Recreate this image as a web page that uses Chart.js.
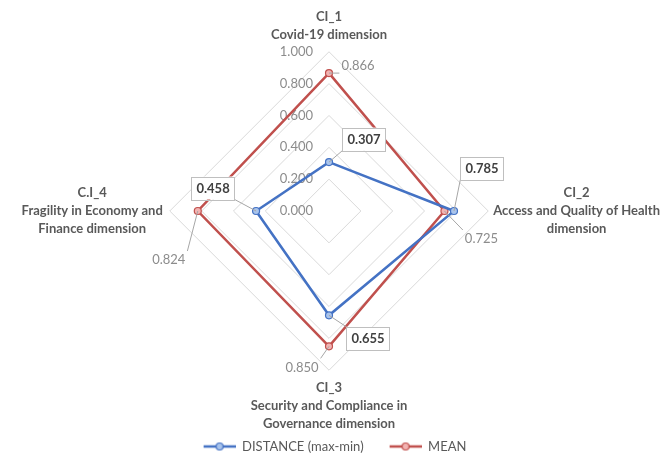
<!DOCTYPE html>
<html>
<head>
<meta charset="utf-8">
<script src="https://cdn.jsdelivr.net/npm/chart.js@4.4.1/dist/chart.umd.min.js"></script>
<style>
  html, body { margin: 0; padding: 0; background: #fff; }
</style>
</head>
<body>
<canvas id="radarChart" width="668" height="459"></canvas>
<script>
// Radar - dimensoes CI
const dimensions = [
    ['CI_1', 'Covid-19 dimension'],
    ['CI_2', 'Access and Quality of Health', 'dimension'],
    ['CI_3', 'Security and Compliance in', 'Governance dimension'],
    ['C.I_4', 'Fragility in Economy and', 'Finance dimension']
];
const distanceValues = [0.307, 0.785, 0.655, 0.458];
const meanValues = [0.866, 0.725, 0.850, 0.824];
const tickValues = [0.0, 0.2, 0.4, 0.6, 0.8, 1.0];

const FONT = 'Lato';
const blue = '#4472C4';
const red = '#C0504D';
const blueFill = '#a9c4ec';
const redFill = '#f2b3b2';

// where each value label sits relative to its point (px)
const labelOffsets = [
    [[35, -23], [28, -43], [39, 23], [-43, -23]],
    [[29, -8], [37, 27], [-27, 20], [-29, 48]]
];
// gap between outer ring and axis title, per axis
const titlePad = [8, 5, 9, 7];
const LINE_H = 18;

// line + circle legend mark, blank space on the left separates the items
function legendMark(color, fill) {
    const c = document.createElement('canvas');
    c.width = 52; c.height = 10;
    const g = c.getContext('2d');
    g.strokeStyle = color;
    g.lineWidth = 2.5;
    g.beginPath(); g.moveTo(20, 5); g.lineTo(52, 5); g.stroke();
    g.beginPath(); g.arc(36, 5, 3.5, 0, Math.PI * 2);
    g.fillStyle = fill; g.fill();
    g.lineWidth = 1.2; g.stroke();
    return c;
}
const legendMarks = [legendMark(blue, blueFill), legendMark(red, redFill)];

const radarDecor = {
    id: 'radarDecor',
    beforeDraw(chart) {
        // nudge the legend row so the visible marks sit like the original
        const lg = chart.legend;
        lg.left -= 17; lg.right -= 17;
        lg.top += 4; lg.bottom += 4;
    },
    beforeDatasetsDraw(chart) {
        const ctx = chart.ctx;
        const r = chart.scales.r;
        ctx.save();
        // tick labels, left of the top axis
        ctx.font = '13px ' + FONT;
        ctx.fillStyle = '#8c8c8c';
        ctx.textAlign = 'right';
        ctx.textBaseline = 'middle';
        tickValues.forEach(v => {
            const d = r.getDistanceFromCenterForValue(v);
            ctx.fillText(v.toFixed(3), r.xCenter - 16, r.yCenter - d);
        });
        // axis titles, lines centred on each other
        ctx.font = 'bold 13px ' + FONT;
        ctx.fillStyle = '#595959';
        ctx.textAlign = 'center';
        ctx.textBaseline = 'middle';
        dimensions.forEach((lines, i) => {
            const p = r.getPointPosition(i, r.drawingArea + titlePad[i]);
            const w = Math.max(...lines.map(s => ctx.measureText(s).width));
            const n = lines.length;
            lines.forEach((line, k) => {
                let x = p.x, y;
                if (i === 0) y = p.y - LINE_H / 2 - (n - 1 - k) * LINE_H;
                else if (i === 2) y = p.y + LINE_H / 2 + k * LINE_H;
                else {
                    y = p.y + (k - (n - 1) / 2) * LINE_H;
                    x = i === 1 ? p.x + w / 2 : p.x - w / 2;
                }
                ctx.fillText(line, x, y);
            });
        });
        ctx.restore();
    },
    afterDatasetsDraw(chart) {
        const ctx = chart.ctx;
        ctx.save();
        chart.data.datasets.forEach((ds, di) => {
            const meta = chart.getDatasetMeta(di);
            const boxed = di === 0;
            ctx.font = (boxed ? 'bold 13px ' : '13px ') + FONT;
            meta.data.forEach((pt, j) => {
                const txt = ds.data[j].toFixed(3);
                const [dx, dy] = labelOffsets[di][j];
                const cx = pt.x + dx, cy = pt.y + dy;
                const w = ctx.measureText(txt).width + (boxed ? 10 : 4);
                const h = boxed ? 23 : 16;
                const x0 = cx - w / 2, y0 = cy - h / 2;
                // leader line
                const nx = Math.max(x0, Math.min(pt.x, x0 + w));
                const ny = Math.max(y0, Math.min(pt.y, y0 + h));
                if (Math.hypot(nx - pt.x, ny - pt.y) > 10) {
                    ctx.strokeStyle = '#a6a6a6';
                    ctx.lineWidth = 1;
                    ctx.beginPath();
                    ctx.moveTo(pt.x, pt.y);
                    ctx.lineTo(nx, ny);
                    ctx.stroke();
                }
                if (boxed) {
                    ctx.fillStyle = '#fff';
                    ctx.fillRect(x0, y0, w, h);
                    ctx.strokeStyle = '#bfbfbf';
                    ctx.strokeRect(Math.round(x0) + 0.5, Math.round(y0) + 0.5, Math.round(w), h);
                }
                ctx.fillStyle = boxed ? '#404040' : '#8c8c8c';
                ctx.textAlign = 'center';
                ctx.textBaseline = 'middle';
                ctx.fillText(txt, cx, cy + 1);
            });
        });
        ctx.restore();
    }
};

const ctx = document.getElementById('radarChart').getContext('2d');
const radarChart = new Chart(ctx, {
    type: 'radar',
    data: {
        labels: dimensions,
        datasets: [{
            label: 'DISTANCE (max-min)',
            data: distanceValues,
            borderColor: blue,
            borderWidth: 2.5,
            backgroundColor: 'transparent',
            fill: false,
            pointRadius: 3.5,
            pointBorderWidth: 1.2,
            pointBackgroundColor: blueFill,
            pointBorderColor: blue
        }, {
            label: 'MEAN',
            data: meanValues,
            borderColor: red,
            borderWidth: 2.5,
            backgroundColor: 'transparent',
            fill: false,
            pointRadius: 3.5,
            pointBorderWidth: 1.2,
            pointBackgroundColor: redFill,
            pointBorderColor: red
        }]
    },
    options: {
        responsive: false,
        animation: false,
        layout: { padding: { top: 9, left: 16, right: 0, bottom: 0 } },
        elements: { line: { tension: 0 } },
        scales: {
            r: {
                min: 0,
                max: 1,
                ticks: { display: false, stepSize: 0.2 },
                grid: { color: '#d9d9d9', lineWidth: 1 },
                angleLines: { display: false },
                pointLabels: {
                    color: 'rgba(0,0,0,0)',
                    padding: 0,
                    font: { family: FONT, size: 13, weight: 'bold', lineHeight: 1.2 }
                }
            }
        },
        plugins: {
            tooltip: { enabled: false },
            legend: {
                position: 'bottom',
                labels: {
                    usePointStyle: true,
                    pointStyleWidth: 52,
                    padding: 6,
                    color: '#595959',
                    font: { family: FONT, size: 13 },
                    generateLabels(chart) {
                        const items = Chart.defaults.plugins.legend.labels.generateLabels(chart);
                        items.forEach((it, i) => { it.pointStyle = legendMarks[i]; });
                        return items;
                    }
                }
            }
        }
    },
    plugins: [radarDecor]
});
</script>
</body>
</html>
